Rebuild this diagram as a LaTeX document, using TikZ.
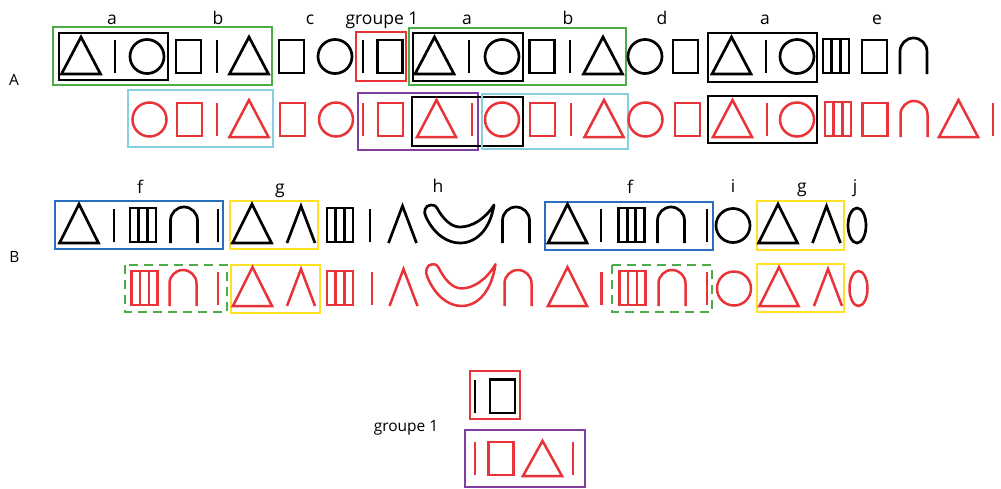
\documentclass[tikz,border=0pt]{standalone}
\usepackage{fontspec}
\setmainfont{Open Sans}
\definecolor{glred}{RGB}{232,52,56}
\definecolor{bxgreen}{RGB}{78,172,72}
\definecolor{bxcyan}{RGB}{135,208,225}
\definecolor{bxpurple}{RGB}{128,62,160}
\definecolor{bxblue}{RGB}{42,110,190}
\definecolor{bxyellow}{RGB}{255,226,40}
\tikzset{
  bk/.style={color=black, line width=2.7pt},
  rd/.style={color=glred, line width=2.5pt},
  bbox/.style={draw=black, line width=2.4pt},
  cbox/.style={line width=2.2pt},
  lab/.style={anchor=base, inner sep=0pt, font=\fontsize{17.5}{17.5}\selectfont},
  pics/tri/.style={code={\draw (-19.5,0) -- (19.5,0) -- (0,-37) -- cycle;}},
  pics/bar/.style={code={\draw (0,-1) -- (0,-34);}},
  pics/sq/.style={code={\draw (-12.5,-1) rectangle (12.5,-34);}},
  pics/circ/.style={code={\draw (0,-17.5) circle (17);}},
  pics/trip/.style={code={\draw (-13,-1) rectangle (13,-35);
      \draw (-4.3,-1) -- (-4.3,-35); \draw (4.3,-1) -- (4.3,-35);}},
  pics/arch/.style={code={\draw (-13.5,0) -- (-13.5,-22.5)
      .. controls (-13.5,-29.95) and (-7.45,-36) .. (0,-36)
      .. controls (7.45,-36) and (13.5,-29.95) .. (13.5,-22.5) -- (13.5,0);}},
  pics/lam/.style={code={\draw (-14,0) -- (0,-37) -- (14,0);}},
  pics/zero/.style={code={\draw (0,-17.5) ellipse (9 and 17.5);}},
  pics/cres/.style={code={\draw[line join=round] (-29,-38)
      .. controls (-35,-38) and (-37,-31) .. (-34,-26)
      .. controls (-26,-9) and (-13,0) .. (0,0)
      .. controls (16,0) and (30,-13) .. (34,-38)
      .. controls (25,-24) and (12,-16) .. (0,-16)
      .. controls (-9,-16) and (-17,-24) .. (-23,-35)
      .. controls (-25,-38) and (-27,-38) .. cycle;}},
}
\begin{document}
\begin{tikzpicture}[x=1pt,y=-1pt]
\useasboundingbox[fill=white] (0,0) rectangle (1001,488);
% ---------- row labels ----------
\node[lab, font=\fontsize{15.5}{15.5}\selectfont] (rowA) at (14,85) {A};
\node[lab, font=\fontsize{15.5}{15.5}\selectfont] (rowB) at (14.5,262) {B};
% ---------- A labels ----------
\node[lab] (la1) at (112,24) {a};
\node[lab] (lb1) at (218,24) {b};
\node[lab] (lc1) at (310,24) {c};
\node[lab] (lg1) at (382,24) {groupe 1};
\node[lab] (la2) at (467,24) {a};
\node[lab] (lb2) at (568,24) {b};
\node[lab] (ld1) at (662,24) {d};
\node[lab] (la3) at (765,24) {a};
\node[lab] (le1) at (877,24) {e};
% ---------- A boxes ----------
\draw[cbox, bxgreen] (53,27) rectangle (272,85);
\draw[bbox] (59,33) rectangle (168,80);
\draw[cbox, glred] (356,32) rectangle (406,81);
\draw[cbox, bxgreen] (409,28) rectangle (626,85);
\draw[bbox] (413,33) rectangle (523,81);
\draw[bbox] (708,33) rectangle (817,82);
\draw[cbox, bxcyan] (128,90) rectangle (273,147);
\draw[cbox, bxpurple] (358,93) rectangle (478,150);
\draw[bbox] (412,97) rectangle (523,146);
\draw[cbox, bxcyan] (482,94) rectangle (628,149);
\draw[bbox] (708,96) rectangle (817,143);
% ---------- A black row ----------
\pic[bk] at (81,74) {tri};
\pic[bk] at (115,74) {bar};
\pic[bk] at (147,74) {circ};
\pic[bk] at (188.5,74) {sq};
\pic[bk] at (217,74) {bar};
\pic[bk] at (249,74) {tri};
\pic[bk] at (291.5,74) {sq};
\pic[bk] at (335,74) {circ};
\pic[bk] at (363,74) {bar};
\pic[bk] at (390,74) {sq};
\pic[bk] at (434.5,74) {tri};
\pic[bk] at (469,74) {bar};
\pic[bk] at (502,74) {circ};
\pic[bk] at (542,74) {sq};
\pic[bk] at (570,74) {bar};
\pic[bk] at (603,74) {tri};
\pic[bk] at (645,74) {circ};
\pic[bk] at (685.5,74) {sq};
\pic[bk] at (731.5,74) {tri};
\pic[bk] at (766,74) {bar};
\pic[bk] at (797,74) {circ};
\pic[bk] at (836,74) {trip};
\pic[bk] at (874.5,74) {sq};
\pic[bk] at (913.5,74) {arch};
% ---------- A red row ----------
\pic[rd] at (149.5,137) {circ};
\pic[rd] at (189.5,137) {sq};
\pic[rd] at (217,137) {bar};
\pic[rd] at (249,137) {tri};
\pic[rd] at (292.5,137) {sq};
\pic[rd] at (336,137) {circ};
\pic[rd] at (363,137) {bar};
\pic[rd] at (390.5,137) {sq};
\pic[rd] at (436.5,137) {tri};
\pic[rd] at (472,137) {bar};
\pic[rd] at (502,137) {circ};
\pic[rd] at (542.5,137) {sq};
\pic[rd] at (571,137) {bar};
\pic[rd] at (604,137) {tri};
\pic[rd] at (645.5,137) {circ};
\pic[rd] at (687.5,137) {sq};
\pic[rd] at (732.5,137) {tri};
\pic[rd] at (767,137) {bar};
\pic[rd] at (797,137) {circ};
\pic[rd] at (838,137) {trip};
\pic[rd] at (875,137) {sq};
\pic[rd] at (914,137) {arch};
\pic[rd] at (958.5,137) {tri};
\pic[rd] at (993,137) {bar};
% ---------- B labels ----------
\node[lab] (lf1) at (140,193) {f};
\node[lab] (lgg1) at (280,193) {g};
\node[lab] (lh1) at (438,192) {h};
\node[lab] (lf2) at (630,193) {f};
\node[lab] (li1) at (733,192) {i};
\node[lab] (lgg2) at (802,192) {g};
\node[lab] (lj1) at (855,192) {j};
% ---------- B boxes ----------
\draw[cbox, bxblue] (55,201) rectangle (223,249);
\draw[cbox, bxyellow] (230,201) rectangle (318,249);
\draw[cbox, bxblue] (545,202) rectangle (713,250);
\draw[cbox, bxyellow] (757,201) rectangle (844,250);
\draw[cbox, bxgreen, dash pattern=on 9pt off 6pt] (125,265) rectangle (227,312);
\draw[cbox, bxyellow] (231,265) rectangle (320,313);
\draw[cbox, bxgreen, dash pattern=on 9pt off 6pt] (612,265) rectangle (712,312);
\draw[cbox, bxyellow] (757,264) rectangle (844,312);
% ---------- B black row ----------
\pic[bk, yscale=1.05] at (79,243) {tri};
\pic[bk] at (114,243) {bar};
\pic[bk] at (143,243) {trip};
\pic[bk] at (184,243) {arch};
\pic[bk] at (218,243) {bar};
\pic[bk, yscale=1.05] at (252,243) {tri};
\pic[bk] at (301,243) {lam};
\pic[bk] at (340,243) {trip};
\pic[bk] at (370,243) {bar};
\pic[bk] at (402.5,243) {lam};
\pic[bk] at (460,243) {cres};
\pic[bk] at (516,243) {arch};
\pic[bk, yscale=1.05] at (567.5,243) {tri};
\pic[bk] at (601,243) {bar};
\pic[bk] at (631.5,243) {trip};
\pic[bk] at (671,243) {arch};
\pic[bk] at (707,243) {bar};
\pic[bk] at (733,243) {circ};
\pic[bk, yscale=1.05] at (778,243) {tri};
\pic[bk] at (826.5,243) {lam};
\pic[bk] at (857,243) {zero};
% ---------- B red row ----------
\pic[rd] at (144.5,306) {trip};
\pic[rd] at (183,306) {arch};
\pic[rd] at (218,306) {bar};
\pic[rd, yscale=1.05] at (252.5,306) {tri};
\pic[rd] at (301,306) {lam};
\pic[rd] at (340,306) {trip};
\pic[rd] at (372,306) {bar};
\pic[rd] at (403.5,306) {lam};
\pic[rd, yscale=1.1] at (461.5,306) {cres};
\pic[rd] at (518,306) {arch};
\pic[rd, yscale=1.05] at (567.5,306) {tri};
\pic[rd] at (601.5,306) {bar};
\pic[rd] at (632.5,306) {trip};
\pic[rd] at (672,306) {arch};
\pic[rd] at (707,306) {bar};
\pic[rd] at (734,306) {circ};
\pic[rd, yscale=1.05] at (779,306) {tri};
\pic[rd] at (828,306) {lam};
\pic[rd] at (858.5,306) {zero};
% ---------- legend: groupe 1 ----------
\node[lab, font=\fontsize{15.5}{15.5}\selectfont] (lg2) at (406,431) {groupe 1};
\draw[cbox, glred] (470,371) rectangle (520,419);
\pic[bk] at (475,414) {bar};
\pic[bk, yscale=1.02] at (502.5,414) {sq};
\draw[cbox, bxpurple] (465,430) rectangle (585,487);
\pic[rd] at (475,476) {bar};
\pic[rd] at (501,476) {sq};
\pic[rd, yscale=0.95] at (542.5,476) {tri};
\pic[rd] at (573,476) {bar};
\end{tikzpicture}
\end{document}
